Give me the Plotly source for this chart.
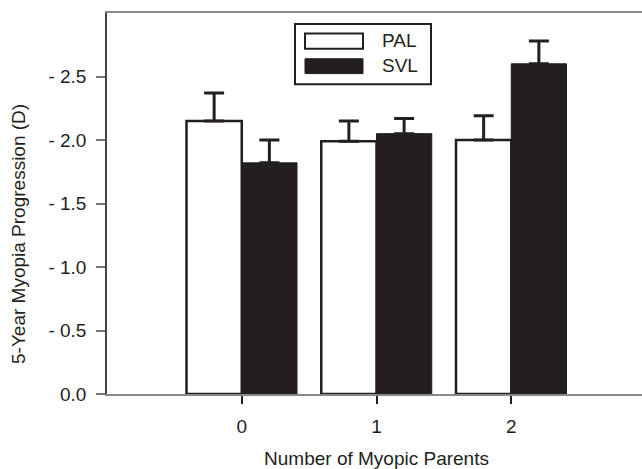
import plotly.graph_objects as go

categories = [0, 1, 2]
pal_values = [2.15, 1.99, 2.00]
pal_errors = [0.22, 0.16, 0.19]
svl_values = [1.82, 2.05, 2.60]
svl_errors = [0.18, 0.12, 0.18]
ytick_vals = [0.0, 0.5, 1.0, 1.5, 2.0, 2.5]
ytick_text = ["0.0", "- 0.5", "- 1.0", "- 1.5", "- 2.0", "- 2.5"]
series_names = ["PAL", "SVL"]

INK = "#231f20"
FONT = "Liberation Sans, Arial, sans-serif"
FS = 19

fig = go.Figure()
fig.add_trace(go.Bar(
    x=categories, y=pal_values, name=series_names[0],
    marker=dict(color="white", line=dict(color=INK, width=2.5)),
    error_y=dict(type="data", array=pal_errors, arrayminus=[0]*3, symmetric=False,
                 color=INK, thickness=3, width=10),
    showlegend=False,
))
fig.add_trace(go.Bar(
    x=categories, y=svl_values, name=series_names[1],
    marker=dict(color=INK, line=dict(color=INK, width=1)),
    error_y=dict(type="data", array=svl_errors, arrayminus=[0]*3, symmetric=False,
                 color=INK, thickness=3, width=10),
    showlegend=False,
))

W = 646
PW = W - 107
def px(x):
    return (x - 107) / PW

# custom legend (paper coordinates)
shapes = [
    dict(type="rect", xref="paper", yref="paper", x0=px(295), x1=px(431), y0=0.813, y1=0.971,
         line=dict(color=INK, width=2), fillcolor="white", layer="above"),
    dict(type="rect", xref="paper", yref="paper", x0=px(305), x1=px(363), y0=0.906, y1=0.946,
         line=dict(color=INK, width=2), fillcolor="white", layer="above"),
    dict(type="rect", xref="paper", yref="paper", x0=px(305), x1=px(363), y0=0.841, y1=0.880,
         line=dict(color=INK, width=1), fillcolor=INK, layer="above"),
]
annotations = [
    dict(text=series_names[0], xref="paper", yref="paper", x=px(380), y=0.927, xanchor="left",
         yanchor="middle", showarrow=False, font=dict(size=FS, color=INK, family=FONT)),
    dict(text=series_names[1], xref="paper", yref="paper", x=px(380), y=0.861, xanchor="left",
         yanchor="middle", showarrow=False, font=dict(size=FS, color=INK, family=FONT)),
    dict(text="5-Year Myopia Progression (D)", xref="paper", yref="paper", x=px(19), y=0.42,
         xanchor="center", yanchor="middle", textangle=-90, showarrow=False,
         font=dict(size=FS, color=INK, family=FONT)),
]

fig.update_layout(
    width=W, height=469,
    margin=dict(l=107, r=0, t=13, b=75),
    paper_bgcolor="white", plot_bgcolor="white",
    barmode="group", bargap=0.18, bargroupgap=0,
    font=dict(family=FONT, color=INK, size=FS),
    shapes=shapes, annotations=annotations,
    xaxis=dict(
        range=[-1, 3.0], tickvals=categories, ticktext=[str(c) for c in categories],
        showgrid=False, zeroline=False, showline=True, linecolor="#888", linewidth=1.5,
        mirror=True, ticks="outside", ticklen=8, tickcolor=INK, tickwidth=1.5,
        tickfont=dict(size=FS, color=INK), ticklabelstandoff=6,
        title=dict(text="Number of Myopic Parents", font=dict(size=FS, color=INK), standoff=20),
    ),
    yaxis=dict(
        range=[0, 3.0], tickvals=ytick_vals, ticktext=ytick_text,
        showgrid=False, zeroline=False, showline=True, linecolor="#444", linewidth=1.5,
        ticks="outside", ticklen=9, tickcolor="#777", tickwidth=1.5,
        tickfont=dict(size=FS, color=INK), ticklabelstandoff=6,
    ),
)

fig.write_html("out.html", config={"displayModeBar": False},
               post_script="document.body.style.margin='0';document.body.style.overflow='hidden';")
